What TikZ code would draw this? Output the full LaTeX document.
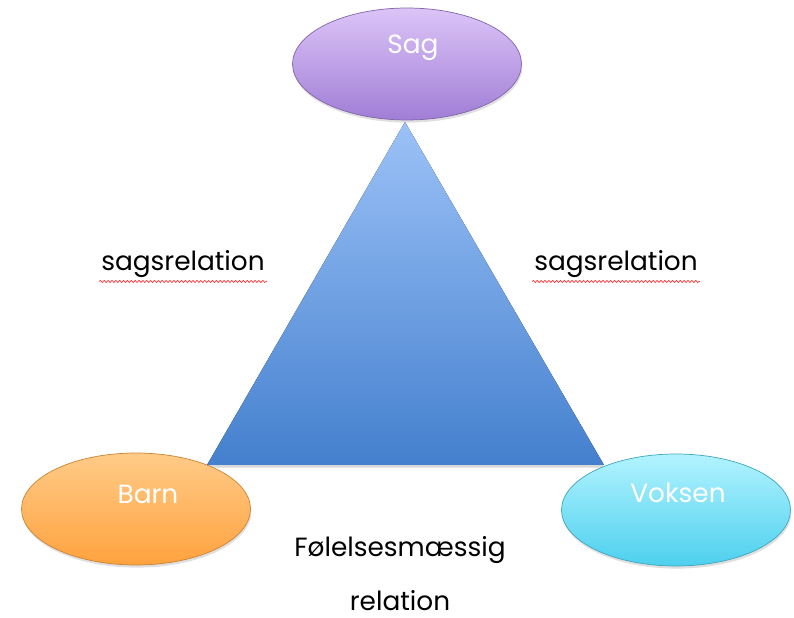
\documentclass[tikz,border=0pt]{standalone}
\usepackage{fontspec}
\setmainfont{Poppins}
\usetikzlibrary{shapes.geometric,decorations.pathmorphing,shadows}

\definecolor{sagtop}{HTML}{DCC4F7}
\definecolor{sagbot}{HTML}{A07ED6}
\definecolor{barntop}{HTML}{FFCB88}
\definecolor{barnbot}{HTML}{FFA23E}
\definecolor{vokstop}{HTML}{B2F3FF}
\definecolor{voksbot}{HTML}{4DD0EE}
\definecolor{tritop}{HTML}{9CC2F7}
\definecolor{tribot}{HTML}{4480CE}

\tikzset{
  blob/.style={ellipse, minimum width=4.58cm, minimum height=2.24cm, draw=#1!80!black, line width=0.4pt,
    drop shadow={opacity=0.25, shadow xshift=0.5pt, shadow yshift=-1.5pt}},
  blobtext/.style={text=white, font=\fontsize{15}{17}\selectfont},
  rel/.style={font=\fontsize{15}{17}\selectfont, inner sep=1pt},
  spell/.style={draw=red!80, line width=0.4pt, decorate, decoration={snake, amplitude=0.6pt, segment length=2.2pt}}
}

\begin{document}
\begin{tikzpicture}[x=0.02cm, y=0.02cm]
\useasboundingbox (0,0) rectangle (794,618);

% triangle
\coordinate (top) at (405,496);
\coordinate (left) at (207,153);
\coordinate (right) at (604,153);
\fill[top color=tritop, bottom color=tribot, drop shadow={opacity=0.3, shadow xshift=0pt, shadow yshift=-1.5pt}]
  (top) -- (right) -- (left) -- cycle;

% the three corners
\node[blob=sagbot, top color=sagtop, bottom color=sagbot] (sag) at (407,554) {};
\node[blobtext] (sagtxt) at (413,570) {Sag};

\node[blob=barnbot, top color=barntop, bottom color=barnbot] (barn) at (136,109) {};
\node[blobtext] (barntxt) at (148,124) {Barn};

\node[blob=voksbot, top color=vokstop, bottom color=voksbot] (voksen) at (676,108) {};
\node[blobtext] (vokstxt) at (678,125) {Voksen};

% relations
\node[rel] (lrel) at (183,354) {sagsrelation};
\draw[spell] ([yshift=-1pt]lrel.south west) -- ([yshift=-1pt]lrel.south east);
\node[rel] (rrel) at (616,354) {sagsrelation};
\draw[spell] ([yshift=-1pt]rrel.south west) -- ([yshift=-1pt]rrel.south east);
\node[rel] (folrel) at (400,68) {Følelsesmæssig};
\node[rel] (rel) at (400,17) {relation};
\end{tikzpicture}
\end{document}
